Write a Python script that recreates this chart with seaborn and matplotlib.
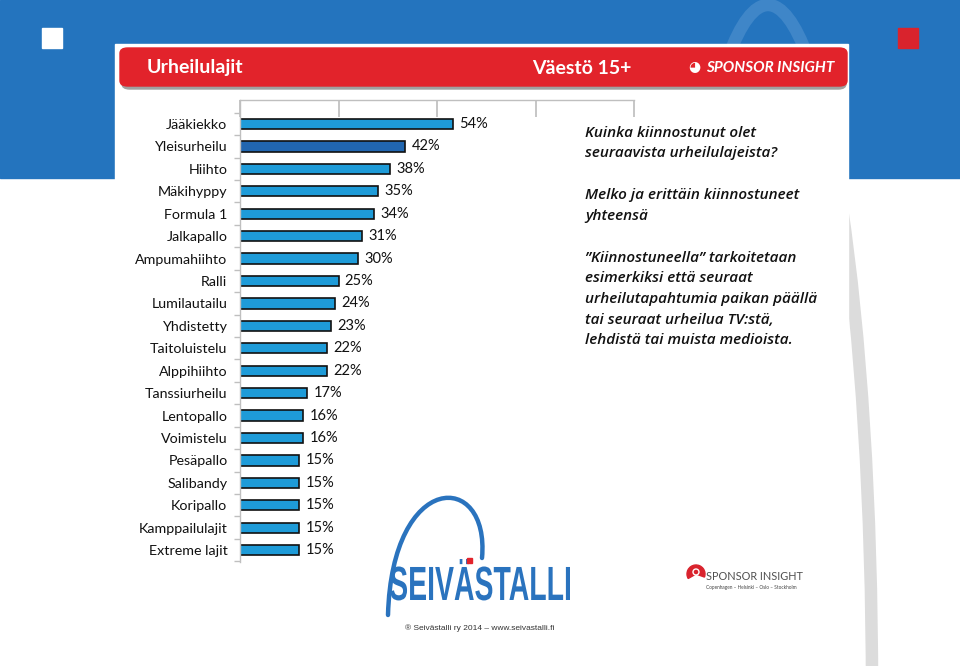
import numpy as np
import pandas as pd
import matplotlib
matplotlib.use("Agg")
import matplotlib.pyplot as plt
import matplotlib.patches as mpatches
from matplotlib.path import Path
from matplotlib.textpath import TextPath
from matplotlib.font_manager import FontProperties
from matplotlib.transforms import Affine2D
import seaborn as sns

# data
lajit = ["Jääkiekko", "Yleisurheilu", "Hiihto", "Mäkihyppy", "Formula 1", "Jalkapallo",
         "Ampumahiihto", "Ralli", "Lumilautailu", "Yhdistetty", "Taitoluistelu",
         "Alppihiihto", "Tanssiurheilu", "Lentopallo", "Voimistelu", "Pesäpallo",
         "Salibandy", "Koripallo", "Kamppailulajit", "Extreme lajit"]
osuus = [54, 42, 38, 35, 34, 31, 30, 25, 24, 23, 22, 22, 17, 16, 16, 15, 15, 15, 15, 15]
korostettu = "Yleisurheilu"

W, H = 960, 666
sns.set_theme(style="white")
plt.rcParams["font.family"] = ["Lato", "DejaVu Sans"]

fig = plt.figure(figsize=(W / 100, H / 100), dpi=100)


def fx(x):
    return x / W


def fy(y):
    return 1 - y / H


# pixel coordinates (y down) -> display
pix = Affine2D().scale(1, -1).translate(0, H)

# background: blue band, faint arc, white card, squares
fig.patches.append(mpatches.Rectangle((0, fy(178)), 1, 178 / H, transform=fig.transFigure,
                                      color="#2474BE", zorder=0))
for vari, y0, y1 in [("#3F86C8", 0, 178), ("#DCDCDC", 178, H)]:
    kaari = mpatches.Arc((768, 690), 2 * 104, 2 * 685, theta1=180, theta2=360,
                         transform=pix, color=vari, lw=9, zorder=0.5)
    leike = mpatches.Rectangle((0, y0), W, y1 - y0, transform=pix)
    kaari.set_clip_path(leike)
    fig.patches.append(kaari)
fig.patches.append(mpatches.Rectangle((fx(115), 0), (848 - 115) / W, fy(44), transform=fig.transFigure,
                                      color="white", zorder=1))
fig.patches.append(mpatches.Rectangle((fx(42), fy(48)), 20 / W, 20 / H, transform=fig.transFigure,
                                      color="white", zorder=1))
fig.patches.append(mpatches.Rectangle((fx(898), fy(48)), 20 / W, 20 / H, transform=fig.transFigure,
                                      color="#D9232D", zorder=1))

# red header bar
fig.patches.append(mpatches.FancyBboxPatch((fx(122), fy(89)), (848 - 124) / W, 38 / H,
                                           boxstyle="round,pad=0,rounding_size=0.008",
                                           transform=fig.transFigure, color="#A0A0A0", zorder=1.5))
fig.patches.append(mpatches.FancyBboxPatch((fx(120), fy(86)), (848 - 121) / W, 38 / H,
                                           boxstyle="round,pad=0,rounding_size=0.008",
                                           transform=fig.transFigure, color="#E2232B", zorder=2))
fig.text(fx(147), fy(68), "Urheilulajit", color="white", fontsize=14, fontweight="bold",
         va="center", zorder=3)
fig.text(fx(532), fy(68), "Väestö 15+", color="white", fontsize=14, fontweight="bold",
         va="center", zorder=3)
fig.text(fx(706), fy(68), "SPONSOR INSIGHT", color="white", fontsize=11, fontstyle="italic",
         fontweight="bold", va="center", zorder=3)
fig.text(fx(688), fy(67), "◕", color="white", fontsize=10, va="center", zorder=3)

# bar chart
ax = fig.add_axes([fx(240), fy(562), (634 - 240) / W, (562 - 100) / H], zorder=4)
ax.patch.set_alpha(0)
df = pd.DataFrame({"laji": lajit, "osuus": osuus})
varit = {l: ("#2166B0" if l == korostettu else "#1E9BD8") for l in lajit}
sns.barplot(data=df, x="osuus", y="laji", hue="laji", palette=varit, legend=False,
            orient="h", width=0.46, saturation=1, edgecolor="#111111", linewidth=1.2, ax=ax)
ax.set_xlim(0, 100)
ax.set_ylim(19.53, -1.07)
ax.set_xlabel("")
ax.set_ylabel("")
ax.xaxis.tick_top()
ax.set_xticks([0, 25, 50, 75, 100])
ax.tick_params(axis="x", which="major", direction="in", length=12, color="#BFBFBF",
               labeltop=False, top=True, bottom=False, labelbottom=False)
ax.set_yticks(np.arange(-0.5, len(lajit) - 0.4, 1), minor=True)
ax.tick_params(axis="y", which="minor", length=4, color="#BFBFBF", left=True)
ax.tick_params(axis="y", which="major", length=0, labelsize=10.3, pad=9, labelcolor="#111111")
for s in ["right", "bottom"]:
    ax.spines[s].set_visible(False)
for s in ["left", "top"]:
    ax.spines[s].set_color("#BFBFBF")
    ax.spines[s].set_linewidth(1)
for i, v in enumerate(osuus):
    ax.text(v + 1.6, i, f"{v}%", va="center", ha="left", fontsize=10.5, color="#111111")

# explanatory text
teksti = dict(fontsize=11, fontstyle="italic", fontweight="semibold", color="#111111",
              family=["Open Sans", "DejaVu Sans"], va="center", zorder=3)
fig.text(fx(585), fy(133), "Kuinka kiinnostunut olet", **teksti)
fig.text(fx(585), fy(153), "seuraavista urheilulajeista?", **teksti)
fig.text(fx(585), fy(195), "Melko ja erittäin kiinnostuneet", **teksti)
fig.text(fx(585), fy(216), "yhteensä", **teksti)
rivit = ["”Kiinnostuneella” tarkoitetaan", "esimerkiksi että seuraat",
         "urheilutapahtumia paikan päällä", "tai seuraat urheilua TV:stä,",
         "lehdistä tai muista medioista."]
for k, r in enumerate(rivit):
    fig.text(fx(585), fy(258 + k * 20.5), r, **teksti)

# Seivästalli logo: condensed lettering and the vault arc
logo = TextPath((0, 0), "SEIVÄSTALLI", size=48,
                prop=FontProperties(family="Liberation Sans", weight="bold"))
ext = logo.get_extents()
sx = 180 / ext.width
logo_t = Affine2D().translate(-ext.x0, 0).scale(sx, 1).scale(1, -1).translate(390, 600) + pix
fig.patches.append(mpatches.PathPatch(logo, transform=logo_t, color="#2A73BE", lw=0, zorder=3))
kaari_polku = Path([(388, 615), (392, 470), (490, 470), (482, 558)],
                   [Path.MOVETO, Path.CURVE4, Path.CURVE4, Path.CURVE4])
fig.patches.append(mpatches.PathPatch(kaari_polku, transform=pix, fill=False, edgecolor="#2A73BE",
                                      lw=3.2, capstyle="round", zorder=3))
fig.patches.append(mpatches.Rectangle((467, 558), 5, 5, transform=pix, color="#E2232B", zorder=3.5))
fig.text(fx(480), fy(628), "® Seivästalli ry 2014 – www.seivastalli.fi", color="#333333",
         fontsize=6, ha="center", va="center", family=["Liberation Sans", "DejaVu Sans"], zorder=3)

# Sponsor Insight logo
fig.patches.append(mpatches.Wedge((696, 574), 9, 150, 20, transform=pix,
                                  color="#D9232D", zorder=3))
fig.patches.append(mpatches.Circle((696, 572), 3, transform=pix, fill=False,
                                   edgecolor="white", lw=1, zorder=3.5))
fig.text(fx(706), fy(576), "SPONSOR INSIGHT", color="#505050", fontsize=7.8,
         va="center", zorder=3)
fig.text(fx(706), fy(588), "Copenhagen – Helsinki – Oslo – Stockholm", color="#444444",
         fontsize=3.4, va="center", zorder=3)

fig.savefig("out.png", dpi=100)
